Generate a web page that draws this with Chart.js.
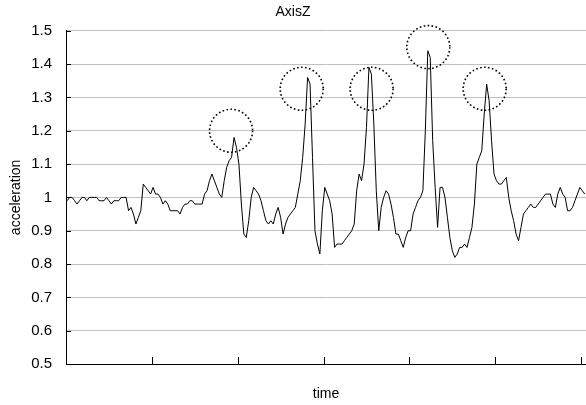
<!DOCTYPE html>
<html>
<head>
    <title>AxisZ</title>
    <script src="https://cdn.jsdelivr.net/npm/chart.js"></script>
    <style>
        body { margin: 0; background: #fff; }
        #wrap { width: 586px; height: 405px; }
    </style>
</head>
<body>
    <div id="wrap"><canvas id="axisChart"></canvas></div>
    <script>
        // acceleration readings, one per time step
        const accel = [
            0.99, 1.00, 1.00, 0.99, 0.98, 0.99, 1.00, 1.00, 0.99, 1.00,
            1.00, 1.00, 1.00, 0.99, 0.99, 0.99, 1.00, 0.99, 0.98, 0.99,
            0.99, 0.99, 1.00, 1.00, 1.00, 0.96, 0.97, 0.95, 0.92, 0.94,
            0.96, 1.04, 1.03, 1.02, 1.01, 1.03, 1.01, 1.01, 1.00, 0.98,
            0.99, 0.98, 0.96, 0.96, 0.96, 0.96, 0.95, 0.97, 0.98, 0.98,
            0.99, 0.99, 0.98, 0.98, 0.98, 0.98, 1.01, 1.02, 1.05, 1.07,
            1.05, 1.03, 1.01, 1.00, 1.05, 1.09, 1.11, 1.12, 1.18, 1.15,
            1.10, 0.98, 0.89, 0.88, 0.93, 1.00, 1.03, 1.02, 1.01, 0.99,
            0.96, 0.93, 0.92, 0.93, 0.92, 0.95, 0.97, 0.94, 0.89, 0.92,
            0.94, 0.95, 0.96, 0.97, 1.01, 1.05, 1.12, 1.22, 1.36, 1.34,
            1.12, 0.90, 0.86, 0.83, 0.96, 1.03, 1.01, 0.99, 0.95, 0.85,
            0.86, 0.86, 0.86, 0.87, 0.88, 0.89, 0.90, 0.92, 1.02, 1.07,
            1.05, 1.10, 1.21, 1.39, 1.37, 1.22, 1.02, 0.90, 0.97, 1.00,
            1.02, 1.01, 0.98, 0.94, 0.89, 0.89, 0.87, 0.85, 0.88, 0.90,
            0.90, 0.95, 0.97, 0.99, 1.00, 1.02, 1.20, 1.44, 1.42, 1.17,
            1.03, 0.91, 1.03, 1.03, 1.00, 0.94, 0.88, 0.84, 0.82, 0.83,
            0.85, 0.85, 0.86, 0.85, 0.88, 0.91, 0.98, 1.10, 1.12, 1.14,
            1.25, 1.34, 1.29, 1.17, 1.07, 1.05, 1.04, 1.04, 1.05, 1.06,
            1.00, 0.96, 0.93, 0.89, 0.87, 0.91, 0.95, 0.96, 0.97, 0.98,
            0.97, 0.97, 0.98, 0.99, 1.00, 1.01, 1.01, 1.01, 0.98, 0.97,
            1.01, 1.03, 1.01, 1.00, 0.96, 0.96, 0.97, 0.99, 1.01, 1.03,
            1.02, 1.01
        ];
        const times = accel.map((v, i) => i + 1);

        // dotted circles marking the peaks (time index, acceleration)
        const markAt = [66.8, 95.6, 124.1, 147.2, 170.2];
        const markValue = [1.20, 1.326, 1.326, 1.451, 1.326];

        const TICK_EVERY = 35;

        const extras = {
            id: 'extras',
            afterDraw(chart) {
                const ctx = chart.ctx;
                const x = chart.scales.x, y = chart.scales.y;
                ctx.save();
                // inner tick marks
                ctx.strokeStyle = '#000';
                ctx.lineWidth = 1;
                ctx.beginPath();
                for (let k = 1; k * TICK_EVERY <= times.length; k++) {
                    const px = Math.round(x.getPixelForValue(k * TICK_EVERY - 0.5)) + 0.5;
                    ctx.moveTo(px, y.bottom);
                    ctx.lineTo(px, y.bottom - 7);
                }
                y.ticks.forEach(t => {
                    const py = Math.round(y.getPixelForValue(t.value)) + 0.5;
                    ctx.moveTo(x.left, py);
                    ctx.lineTo(x.left + 5, py);
                });
                ctx.stroke();
                // dotted circles
                ctx.setLineDash([1.6, 2.4]);
                ctx.lineWidth = 1.6;
                markAt.forEach((m, i) => {
                    ctx.beginPath();
                    ctx.arc(x.getPixelForValue(m), y.getPixelForValue(markValue[i]), 21.5, 0, Math.PI * 2);
                    ctx.stroke();
                });
                ctx.restore();
            }
        };

        const font = { family: 'Liberation Sans', size: 14, weight: 'normal' };
        const tickFont = { family: 'Liberation Sans', size: 15, weight: 'normal' };

        new Chart(document.getElementById('axisChart'), {
            type: 'line',
            data: {
                labels: times,
                datasets: [{
                    label: 'AxisZ',
                    data: accel,
                    borderColor: '#000',
                    borderWidth: 1,
                    pointRadius: 0,
                    tension: 0,
                    fill: false
                }]
            },
            options: {
                responsive: true,
                maintainAspectRatio: false,
                animation: false,
                layout: { padding: 0 },
                plugins: {
                    legend: { display: false },
                    tooltip: { enabled: false },
                    title: {
                        display: true,
                        text: 'AxisZ',
                        color: '#000',
                        font: font,
                        padding: { top: 4, bottom: 10 }
                    }
                },
                scales: {
                    x: {
                        offset: true,
                        grid: { display: false, offset: true },
                        border: { color: '#000', width: 1 },
                        ticks: { display: false },
                        title: {
                            display: true,
                            text: 'time',
                            color: '#000',
                            font: font,
                            padding: { top: 0, bottom: 2 }
                        },
                        afterFit(scale) { scale.height = 41; }
                    },
                    y: {
                        min: 0.5,
                        max: 1.5,
                        grid: { color: '#c0c0c0', drawTicks: false },
                        border: { color: '#000', width: 1 },
                        ticks: {
                            stepSize: 0.1,
                            color: '#000',
                            font: tickFont,
                            padding: 14,
                            callback: v => String(Math.round(v * 10) / 10)
                        },
                        title: {
                            display: true,
                            text: 'acceleration',
                            color: '#000',
                            font: font,
                            padding: { top: 8, bottom: 0 }
                        },
                        afterFit(scale) { scale.width = 66; }
                    }
                }
            },
            plugins: [extras]
        });
    </script>
</body>
</html>
